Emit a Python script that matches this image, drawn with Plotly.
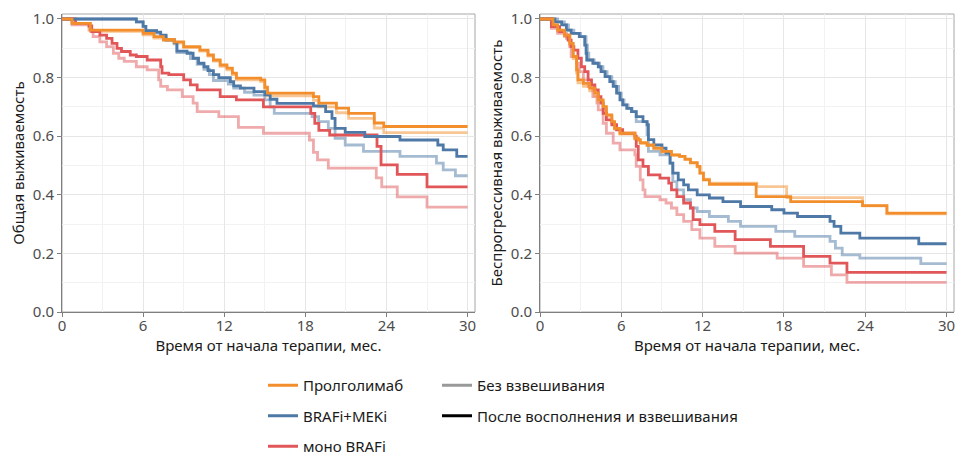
import plotly.graph_objects as go

# --- Overall survival (left panel) ---------------------------------------
os_t_prol_w = [0, 0.74, 2.1, 6.0, 6.8, 7.5, 8.3, 9.0, 10.2, 10.8, 11.2, 11.7, 12.2, 12.6, 12.9,
               14.7, 15.0, 15.2, 18.6, 19.0, 20.3, 21.2, 23.1, 23.8, 30]
os_s_prol_w = [1.0, 0.985, 0.962, 0.951, 0.94, 0.93, 0.922, 0.906, 0.894, 0.877, 0.86, 0.843, 0.832,
               0.815, 0.798, 0.792, 0.767, 0.747, 0.735, 0.713, 0.696, 0.678, 0.645, 0.633, 0.633]
os_t_prol_u = [0, 0.74, 2.1, 6.0, 6.8, 7.5, 8.3, 9.0, 10.2, 10.8, 11.2, 11.7, 12.2, 12.6, 12.9,
               14.7, 15.0, 15.2, 18.6, 19.0, 20.3, 21.2, 23.1, 23.8, 30]
os_s_prol_u = [1.0, 0.985, 0.958, 0.946, 0.935, 0.926, 0.918, 0.902, 0.89, 0.873, 0.856, 0.838, 0.826,
               0.81, 0.792, 0.786, 0.76, 0.738, 0.722, 0.70, 0.68, 0.661, 0.628, 0.612, 0.612]

os_t_bm_w = [0, 5.5, 6.0, 6.2, 7.0, 7.3, 7.7, 8.3, 8.5, 9.25, 9.7, 10.1, 10.5, 10.8, 11.2, 11.6,
             12.45, 12.7, 13.2, 14.2, 15.0, 15.4, 15.9, 18.6, 19.5, 19.97, 20.2, 20.95, 22.4, 25.0,
             27.8, 28.2, 29.2, 30]
os_s_bm_w = [1.0, 0.99, 0.975, 0.96, 0.955, 0.945, 0.93, 0.92, 0.89, 0.883, 0.866, 0.849, 0.837,
             0.824, 0.81, 0.80, 0.786, 0.772, 0.764, 0.752, 0.741, 0.726, 0.712, 0.703, 0.684, 0.661,
             0.627, 0.613, 0.599, 0.587, 0.57, 0.553, 0.531, 0.531]
os_t_bm_u = [0, 5.5, 6.0, 6.2, 7.0, 7.3, 7.7, 8.3, 8.5, 9.5, 10.0, 10.5, 10.9, 11.2, 12.3, 12.7,
             13.5, 14.2, 15.0, 15.4, 15.7, 18.5, 18.98, 19.7, 20.2, 20.95, 22.3, 25.0, 27.7, 28.2,
             29.1, 30]
os_s_bm_u = [1.0, 0.99, 0.975, 0.96, 0.952, 0.94, 0.926, 0.915, 0.885, 0.865, 0.845, 0.828, 0.81,
             0.79, 0.778, 0.764, 0.75, 0.74, 0.724, 0.70, 0.678, 0.667, 0.65, 0.627, 0.593, 0.57,
             0.548, 0.531, 0.508, 0.485, 0.465, 0.465]

os_t_mono_w = [0, 1.0, 2.0, 2.2, 2.8, 3.3, 3.7, 4.07, 4.4, 5.05, 5.5, 6.3, 7.3, 7.4, 7.9, 9.0, 9.5,
               10.0, 11.7, 12.9, 14.9, 18.4, 18.7, 19.0, 19.8, 23.3, 23.6, 24.8, 27.0, 30]
os_s_mono_w = [1.0, 0.985, 0.976, 0.957, 0.945, 0.934, 0.917, 0.90, 0.889, 0.877, 0.872, 0.86,
               0.837, 0.815, 0.81, 0.792, 0.775, 0.758, 0.735, 0.724, 0.70, 0.678, 0.644, 0.62,
               0.604, 0.565, 0.502, 0.47, 0.427, 0.427]
os_t_mono_u = [0, 0.74, 2.0, 2.3, 2.8, 3.3, 3.8, 4.2, 4.6, 5.5, 6.3, 7.15, 7.3, 7.8, 8.9, 9.7, 10.0,
               11.6, 13.05, 14.9, 18.3, 18.6, 18.9, 19.7, 23.25, 23.65, 24.8, 27.0, 30]
os_s_mono_u = [1.0, 0.98, 0.962, 0.94, 0.922, 0.906, 0.883, 0.866, 0.855, 0.837, 0.826, 0.792,
               0.77, 0.758, 0.735, 0.713, 0.684, 0.667, 0.63, 0.61, 0.587, 0.545, 0.519, 0.491,
               0.458, 0.427, 0.393, 0.358, 0.358]

# --- Progression-free survival (right panel) -----------------------------
pfs_t_prol_w = [0, 0.96, 1.3, 1.8, 2.2, 2.45, 2.7, 2.8, 3.2, 3.67, 4.05, 4.3, 4.66, 4.9, 5.3, 5.5,
                5.9, 7.0, 7.25, 7.4, 7.9, 8.4, 9.0, 9.7, 10.3, 10.7, 11.1, 11.6, 11.8, 12.06, 12.5,
                15.95, 18.5, 23.8, 25.6, 30]
pfs_s_prol_w = [1.0, 0.98, 0.962, 0.945, 0.917, 0.872, 0.826, 0.792, 0.78, 0.764, 0.747, 0.724,
                0.701, 0.673, 0.65, 0.627, 0.61, 0.593, 0.588, 0.578, 0.57, 0.559, 0.548, 0.536,
                0.531, 0.522, 0.51, 0.497, 0.474, 0.451, 0.436, 0.394, 0.377, 0.363, 0.3375, 0.3375]
pfs_t_prol_u = [0, 0.96, 1.3, 1.8, 2.2, 2.45, 2.7, 2.8, 3.2, 3.67, 4.05, 4.3, 4.66, 4.9, 5.3, 5.5,
                5.9, 7.0, 7.25, 7.4, 7.9, 8.4, 9.0, 9.7, 10.3, 10.7, 11.1, 11.6, 11.8, 12.06, 12.5,
                16.0, 18.2, 23.8, 25.6, 30]
pfs_s_prol_u = [1.0, 0.98, 0.958, 0.94, 0.91, 0.865, 0.815, 0.782, 0.77, 0.755, 0.738, 0.716,
                0.694, 0.668, 0.646, 0.624, 0.607, 0.59, 0.585, 0.575, 0.568, 0.557, 0.546, 0.535,
                0.53, 0.52, 0.508, 0.495, 0.474, 0.453, 0.44, 0.428, 0.39, 0.362, 0.335, 0.335]

pfs_t_bm_w = [0, 1.1, 1.6, 1.95, 2.3, 2.9, 3.3, 3.4, 3.45, 3.9, 4.3, 4.5, 4.8, 5.15, 5.4, 5.65,
              5.9, 6.1, 6.4, 6.75, 7.1, 7.6, 7.9, 8.0, 8.4, 9.0, 9.3, 9.6, 9.8, 10.2, 10.6, 10.95,
              11.6, 12.5, 13.5, 14.8, 17.1, 18.0, 19.0, 21.4, 21.7, 22.2, 23.6, 27.95, 30]
pfs_s_bm_w = [1.0, 0.99, 0.98, 0.962, 0.951, 0.94, 0.911, 0.883, 0.86, 0.849, 0.837, 0.82, 0.803,
              0.786, 0.77, 0.747, 0.724, 0.707, 0.695, 0.684, 0.667, 0.65, 0.639, 0.588, 0.57,
              0.559, 0.542, 0.508, 0.474, 0.451, 0.434, 0.417, 0.40, 0.389, 0.377, 0.36, 0.349,
              0.3375, 0.326, 0.309, 0.292, 0.269, 0.252, 0.233, 0.233]
pfs_t_bm_u = [0, 1.3, 1.8, 2.1, 2.5, 3.0, 3.4, 3.5, 3.6, 4.0, 4.4, 4.65, 4.95, 5.3, 5.55, 5.8, 6.0,
              6.2, 6.5, 6.8, 7.1, 7.9, 8.0, 8.85, 9.6, 9.8, 10.1, 10.6, 11.1, 11.6, 12.5, 13.9, 14.8,
              17.4, 18.8, 21.4, 21.8, 22.3, 23.6, 28.1, 30]
pfs_s_bm_u = [1.0, 0.99, 0.98, 0.962, 0.951, 0.94, 0.911, 0.883, 0.86, 0.849, 0.837, 0.82, 0.803,
              0.786, 0.77, 0.747, 0.724, 0.707, 0.695, 0.684, 0.65, 0.605, 0.548, 0.536, 0.508,
              0.445, 0.417, 0.383, 0.355, 0.343, 0.326, 0.309, 0.292, 0.275, 0.258, 0.241, 0.218,
              0.195, 0.184, 0.165, 0.165]

pfs_t_mono_w = [0, 0.84, 1.45, 1.8, 2.07, 2.3, 2.5, 2.8, 3.05, 3.3, 3.55, 3.8, 4.05, 4.3, 4.5,
                4.66, 4.9, 5.3, 5.65, 6.1, 7.0, 7.1, 7.25, 7.6, 8.0, 8.85, 9.5, 9.7, 10.1, 10.6,
                11.1, 11.3, 11.8, 12.9, 14.4, 17.0, 19.45, 21.4, 22.65, 30]
pfs_s_mono_w = [1.0, 0.974, 0.957, 0.945, 0.928, 0.906, 0.894, 0.866, 0.837, 0.82, 0.792, 0.775,
                0.758, 0.735, 0.713, 0.678, 0.656, 0.639, 0.622, 0.61, 0.60, 0.565, 0.519, 0.497,
                0.468, 0.457, 0.44, 0.417, 0.394, 0.372, 0.355, 0.315, 0.298, 0.275, 0.247, 0.224,
                0.19, 0.167, 0.135, 0.135]
pfs_t_mono_u = [0, 0.84, 1.3, 1.95, 2.2, 2.3, 2.7, 2.9, 3.2, 3.55, 3.9, 4.2, 4.3, 4.66, 4.9, 5.4,
                5.9, 7.0, 7.1, 7.4, 7.6, 7.75, 8.85, 9.3, 9.7, 10.1, 10.6, 11.2, 11.8, 12.9, 14.4,
                17.5, 19.45, 21.5, 22.65, 30]
pfs_s_mono_u = [1.0, 0.968, 0.951, 0.934, 0.906, 0.872, 0.849, 0.82, 0.792, 0.77, 0.735, 0.713,
                0.69, 0.644, 0.61, 0.576, 0.553, 0.536, 0.497, 0.451, 0.417, 0.394, 0.383, 0.372,
                0.355, 0.332, 0.309, 0.281, 0.252, 0.224, 0.201, 0.184, 0.156, 0.127, 0.101, 0.101]

# --- Labels and styles ---------------------------------------------------
groups = ["Пролголимаб", "BRAFi+MEKi", "моно BRAFi"]
group_colors = {"Пролголимаб": "#f28e2b", "BRAFi+MEKi": "#4e79a7", "моно BRAFi": "#e15759"}
method_labels = ["Без взвешивания", "После восполнения и взвешивания"]
method_colors = ["#999999", "#000000"]
x_ticks = [0, 6, 12, 18, 24, 30]
y_ticks = [0.0, 0.2, 0.4, 0.6, 0.8, 1.0]
x_title = "Время от начала терапии, мес."
y_titles = ["Общая выживаемость", "Беспрогрессивная выживаемость"]

panels = [
    ("x", "y", {
        "Пролголимаб": ((os_t_prol_u, os_s_prol_u), (os_t_prol_w, os_s_prol_w)),
        "BRAFi+MEKi": ((os_t_bm_u, os_s_bm_u), (os_t_bm_w, os_s_bm_w)),
        "моно BRAFi": ((os_t_mono_u, os_s_mono_u), (os_t_mono_w, os_s_mono_w)),
    }),
    ("x2", "y2", {
        "Пролголимаб": ((pfs_t_prol_u, pfs_s_prol_u), (pfs_t_prol_w, pfs_s_prol_w)),
        "BRAFi+MEKi": ((pfs_t_bm_u, pfs_s_bm_u), (pfs_t_bm_w, pfs_s_bm_w)),
        "моно BRAFi": ((pfs_t_mono_u, pfs_s_mono_u), (pfs_t_mono_w, pfs_s_mono_w)),
    }),
]

fig = go.Figure()
LW = 2.8
draw_order = ["моно BRAFi", "BRAFi+MEKi", "Пролголимаб"]

for xa, ya, curves in panels:
    # unweighted curves (faded) underneath
    for g in draw_order:
        (tu, su), _ = curves[g]
        fig.add_trace(go.Scatter(x=tu, y=su, xaxis=xa, yaxis=ya, mode="lines",
                                 line=dict(color=group_colors[g], width=LW, shape="hv"),
                                 opacity=0.5, showlegend=False, hoverinfo="skip"))
    # weighted curves on top
    for g in draw_order:
        _, (tw, sw) = curves[g]
        fig.add_trace(go.Scatter(x=tw, y=sw, xaxis=xa, yaxis=ya, mode="lines",
                                 line=dict(color=group_colors[g], width=LW, shape="hv"),
                                 showlegend=False))

# legend entries: groups (colour) and weighting method (shade)
for i, g in enumerate(groups):
    fig.add_trace(go.Scatter(x=[None], y=[None], mode="lines", name=g,
                             line=dict(color=group_colors[g], width=3),
                             legend="legend", legendgroup=f"g{i}"))
for i, (m, c) in enumerate(zip(method_labels, method_colors)):
    fig.add_trace(go.Scatter(x=[None], y=[None], mode="lines", name=m,
                             line=dict(color=c, width=3),
                             legend="legend2", legendgroup=f"m{i}"))

W, H = 957, 457
L_MARGIN, T_MARGIN, B_MARGIN = 0, 14, 145
plot_h = H - T_MARGIN - B_MARGIN

FONT = "Noto Sans"
axis_common = dict(
    showline=True, linecolor="#7f7f7f", linewidth=1,
    ticks="outside", ticklen=4, tickcolor="#7f7f7f", tickwidth=1,
    tickfont=dict(family=FONT, size=15, color="#4d4d4d"),
    showgrid=True, gridcolor="#e6e6e6", gridwidth=1,
    zeroline=False,
)

x_domains = [[62 / W, 475 / W], [540 / W, 954 / W]]
x_max = 30.55
for i, (xa, ya, _) in enumerate(panels):
    xkey = "xaxis" if i == 0 else "xaxis2"
    ykey = "yaxis" if i == 0 else "yaxis2"
    xa_cfg = dict(axis_common)
    xa_cfg.update(domain=x_domains[i], range=[0, x_max], tickvals=x_ticks,
                  ticktext=[str(v) for v in x_ticks], ticklabelstandoff=-4,
                  minor=dict(dtick=3, tick0=0, showgrid=True, gridcolor="#f2f2f2", gridwidth=1),
                  title=dict(text=x_title, font=dict(family=FONT, size=15, color="#1a1a1a"),
                             standoff=0),
                  anchor="y" if i == 0 else "y2")
    ya_cfg = dict(axis_common)
    ya_cfg.update(domain=[0, 1], range=[0, 1.017], tickvals=y_ticks,
                  ticktext=[f"{v:.1f}" for v in y_ticks],
                  minor=dict(dtick=0.1, tick0=0, showgrid=True, gridcolor="#f2f2f2", gridwidth=1),
                  title=dict(text=y_titles[i], font=dict(family=FONT, size=15, color="#1a1a1a"),
                             standoff=4),
                  anchor="x" if i == 0 else "x2")
    fig.update_layout({xkey: xa_cfg, ykey: ya_cfg})
    # light panel border
    fig.add_shape(type="rect", xref="paper", yref="paper",
                  x0=x_domains[i][0], x1=x_domains[i][1], y0=0, y1=1,
                  line=dict(color="#a6a6a6", width=1), layer="below")

legend_font = dict(family=FONT, size=15, color="#1a1a1a")
legend_top = -(369 - (H - B_MARGIN)) / plot_h
fig.update_layout(
    width=W, height=H,
    margin=dict(l=L_MARGIN, r=0, t=T_MARGIN, b=B_MARGIN, autoexpand=False),
    paper_bgcolor="white", plot_bgcolor="white",
    font=dict(family=FONT),
    legend=dict(x=263 / W, xanchor="left", y=legend_top, yanchor="top",
                orientation="v", font=legend_font, tracegroupgap=8,
                bgcolor="rgba(0,0,0,0)", itemclick=False, itemdoubleclick=False),
    legend2=dict(x=437 / W, xanchor="left", y=legend_top, yanchor="top",
                 orientation="v", font=legend_font, tracegroupgap=8,
                 bgcolor="rgba(0,0,0,0)", itemclick=False, itemdoubleclick=False),
)

fig.write_html("out.html")
